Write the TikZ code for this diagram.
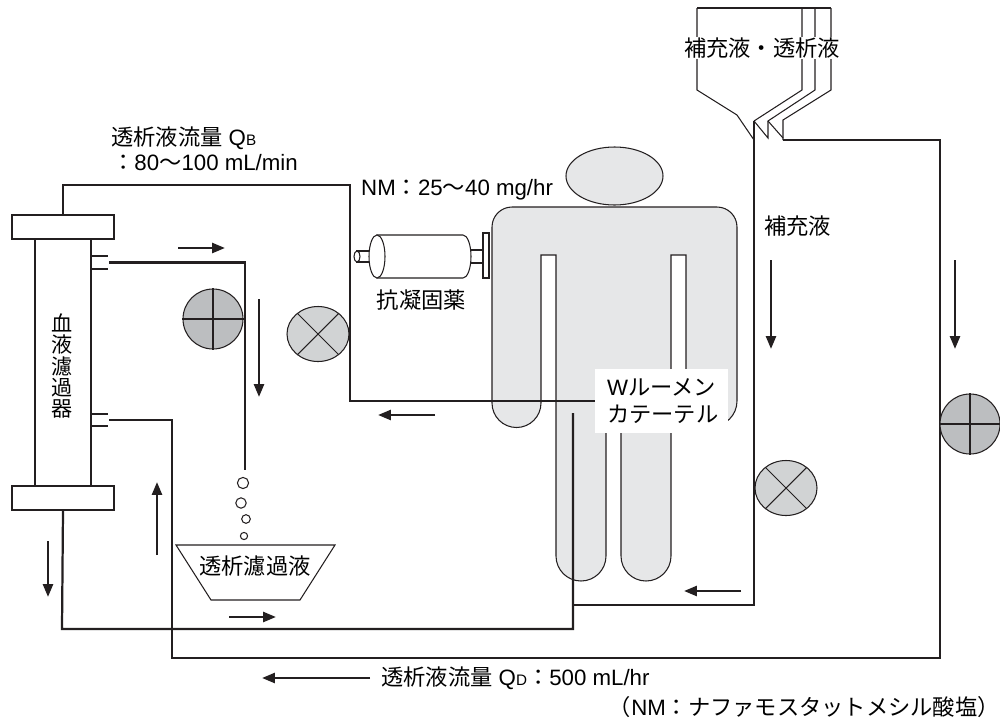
\documentclass[tikz,border=0pt]{standalone}
\usepackage{fontspec}
\setmainfont{Liberation Sans}
\newfontfamily\jp{Noto Sans CJK JP}
\usetikzlibrary{arrows.meta,shapes.geometric,positioning}

\definecolor{ink}{HTML}{231F20}
\definecolor{skin}{HTML}{E6E7E8}
\definecolor{rollfill}{HTML}{BCBEC0}
\definecolor{valvefill}{HTML}{D1D3D4}

\tikzset{
  tube/.style={draw=ink, line width=1.9pt},
  thinline/.style={draw=ink, line width=0.9pt},
  flowarrow/.style={draw=ink, line width=2.1pt, -{Triangle[length=11pt,width=8.5pt]}},
  rollpump/.style={circle, thinline, fill=rollfill, minimum size=1.8cm, inner sep=0pt},
  valvepump/.style={ellipse, thinline, fill=valvefill, minimum width=1.86cm, minimum height=1.65cm, inner sep=0pt},
  capbox/.style={rectangle, thinline, fill=white, minimum width=3.06cm, minimum height=0.72cm, inner sep=0pt},
  lbl/.style={font=\fontsize{19pt}{23pt}\selectfont, inner sep=0pt},
}

\begin{document}
\begin{tikzpicture}[x=0.03cm, y=-0.03cm]
\useasboundingbox (0,0) rectangle (1000,720);

% patient
\path[thinline, fill=skin] (614.5,176) ellipse[x radius=48.5, y radius=29];
\path[thinline, fill=skin] (492,227) arc(180:270:20) -- (717,207) arc(270:360:20)
  -- (737,401) arc(0:180:25.5) -- (686,255) -- (671,255) -- (671,556) arc(0:180:25)
  -- (621,425) -- (606,425) -- (606,556) arc(0:180:25) -- (556,255) -- (541,255)
  -- (541,403) arc(0:180:24.5) -- cycle;

% hemofilter
\node[rectangle, thinline, fill=white, minimum width=1.68cm, minimum height=7.41cm, inner sep=0pt] (filter) at (63,362.5) {};
\node[capbox] (topcap) at (63,227) {};
\node[capbox] (botcap) at (63,498) {};
\node[font=\fontsize{18pt}{18.3pt}\selectfont\jp, align=center, inner sep=0pt] at (62,366) {血\\液\\濾\\過\\器};
\draw[thinline] (91,256) -- (108,256) (91,269) -- (108,269);
\draw[thinline] (91,414) -- (108,414) (91,426) -- (108,426);
\coordinate (portA) at (109,262.5);
\coordinate (portB) at (109,420);

% catheter label
\node[lbl, fill=white, align=left, text width=3.27cm, inner xsep=0.36cm, minimum height=1.92cm] (cath) at (661.5,401)
  {W{\jp ルーメン}\\{\jp カテーテル}};

% blood circuit and dialysate lines
\draw[tube] (topcap.north) |- (350,185) |- (cath.west);
\draw[tube] (botcap.south) -- (62,629) -| (573,413);
\coordinate (drip) at (245,470);
\draw[tube] (portA) -| (drip);
\draw[tube] (portB) -| (172,658) -| (940,140) -- (783,140);
\draw[tube] (573,605) -| (754,121);

% fluid bag
\draw[thinline] (697,8) -- (831,8);
\draw[thinline] (697,8) -- (697,90) -- (737,115) -- (754,140);
\draw[thinline] (802,8) -- (802,90) -- (754,121);
\draw[thinline] (754,121) -- (768,138) -- (768,121) -- (815,90) -- (815,8);
\draw[thinline] (768,121) -- (783,138);
\draw[thinline] (783,140) -- (783,120) -- (831,90) -- (831,8);
\node[lbl, fill=white, inner sep=1pt] (bag) at (762,48) {\jp 補充液・透析液};

% filtrate drops and bowl
\foreach \dx/\dy/\r in {243/483/5.6, 241/503/5.2, 246/519/4.3, 244/536/3.6}
  \draw[thinline] (\dx,\dy) circle[radius=\r];
\draw[thinline] (176,545) -- (335,545) -- (300,600) -- (211,600) -- cycle;
\node[lbl] (filtrate) at (255,566) {\jp 透析濾過液};

% pumps
\node[rollpump] (bpump) at (213,319) {};
\draw[thinline] (bpump.north) -- (bpump.south) (bpump.west) -- (bpump.east);
\node[valvepump] (vpump) at (318,334) {};
\draw[thinline] (vpump.45) -- (vpump.225) (vpump.135) -- (vpump.315);
\node[valvepump] (spump) at (786,488) {};
\draw[thinline] (spump.45) -- (spump.225) (spump.135) -- (spump.315);
\node[rollpump] (dpump) at (970,424) {};
\draw[thinline] (dpump.north) -- (dpump.south) (dpump.west) -- (dpump.east);

% syringe pump
\draw[thinline, fill=white] (466,250) rectangle (483,263);
\draw[thinline, fill=white] (483,233) rectangle (489,278);
\draw[thinline, fill=white] (357,251) rectangle (378,262);
\draw[thinline, fill=white] (357,256.5) ellipse[x radius=3, y radius=5.5];
\draw[thinline, fill=white] (377,235) -- (463,235) arc(-90:90:8 and 21.5) -- (377,278) -- cycle;
\draw[thinline, fill=white] (377,256.5) ellipse[x radius=8, y radius=21.5];
\node[lbl] (anticoag) at (421.5,300) {\jp 抗凝固薬};

% flow directions
\draw[flowarrow] (178,248) -- (225,248);
\draw[flowarrow] (259,299) -- (259,397);
\draw[flowarrow] (435,415) -- (378,415);
\draw[flowarrow] (157,555) -- (157,482);
\draw[flowarrow] (48,541) -- (48,597);
\draw[flowarrow] (229,617) -- (276,617);
\draw[flowarrow] (741,591) -- (684,591);
\draw[flowarrow] (771,260) -- (771,349);
\draw[flowarrow] (955,260) -- (955,349);

% labels
\node[lbl, anchor=west] (qbA) at (111,138) {{\jp 透析液流量} Q{\fontsize{13pt}{13pt}\selectfont B}};
\node[lbl, anchor=west] (qbB) at (112,163) {{\jp ：}80{\jp 〜}100 mL/min};
\node[lbl, anchor=west] (nm) at (361,190) {NM{\jp ：}25{\jp 〜}40 mg/hr};
\node[lbl, anchor=west] (sub) at (764,226) {\jp 補充液};
\node[lbl, anchor=west, inner xsep=0.33cm] (qd) at (370,678) {{\jp 透析液流量} Q{\fontsize{13pt}{13pt}\selectfont D}{\jp ：}500 mL/hr};
\draw[flowarrow] (qd.west) -- (262,678);
\node[lbl, anchor=east] (note) at (1000,707) {{\jp （}NM{\jp ：ナファモスタットメシル酸塩）}};
\end{tikzpicture}
\end{document}
